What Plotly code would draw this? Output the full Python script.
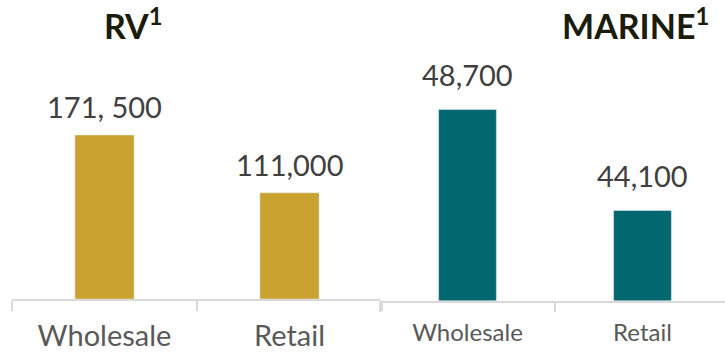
import plotly.graph_objects as go

categories = ["Wholesale", "Retail"]
rv_values = [171500, 111000]
rv_labels = ["171, 500", "111,000"]
marine_values = [48700, 44100]
marine_labels = ["48,700", "44,100"]
titles = ["RV<sup>1</sup>", "MARINE<sup>1</sup>"]

W, H = 725, 354
GOLD = "#C9A22F"
TEAL = "#03676F"
AXIS = "#D9D9D9"
FONT = "Lato"

fig = go.Figure()
fig.add_trace(go.Bar(x=categories, y=rv_values, marker_color=GOLD, width=0.32,
                     xaxis="x", yaxis="y", hoverinfo="skip"))
fig.add_trace(go.Bar(x=categories, y=marine_values, marker_color=TEAL, width=0.33,
                     xaxis="x2", yaxis="y2", hoverinfo="skip"))

annotations = []
for c, v, t in zip(categories, rv_values, rv_labels):
    annotations.append(dict(x=c, y=v, xref="x", yref="y", text=t, showarrow=False,
                            yanchor="bottom", yshift=9,
                            font=dict(family=FONT, size=29, color="#404040")))
for c, v, t in zip(categories, marine_values, marine_labels):
    annotations.append(dict(x=c, y=v, xref="x2", yref="y2", text=t, showarrow=False,
                            yanchor="bottom", yshift=16,
                            font=dict(family=FONT, size=29, color="#404040")))
annotations.append(dict(x=133 / W, y=1 - 24 / H, xref="paper", yref="paper", text="<b>" + titles[0] + "</b>",
                        showarrow=False, xanchor="center", yanchor="middle",
                        font=dict(family=FONT, size=34, color="#1C1C0C")))
annotations.append(dict(x=635 / W, y=1 - 24 / H, xref="paper", yref="paper", text="<b>" + titles[1] + "</b>",
                        showarrow=False, xanchor="center", yanchor="middle",
                        font=dict(family=FONT, size=34, color="#1C1C0C")))

left_bottom = 299
right_bottom = 300.5
fig.update_layout(
    width=W, height=H,
    margin=dict(l=0, r=0, t=0, b=0),
    paper_bgcolor="white", plot_bgcolor="white",
    showlegend=False,
    annotations=annotations,
    xaxis=dict(domain=[12 / W, 382 / W], range=[-0.5, 1.5], type="category",
               showline=True, linecolor=AXIS, linewidth=1.5,
               ticks="outside", tickson="boundaries", ticklen=10, tickcolor=AXIS, tickwidth=1.5,
               ticklabelstandoff=10,
               tickfont=dict(family=FONT, size=29, color="#595959"), showgrid=False, fixedrange=True),
    yaxis=dict(domain=[(H - left_bottom) / H, 1], range=[0, 171500 / 164 * left_bottom],
               visible=False, showgrid=False, fixedrange=True),
    xaxis2=dict(domain=[380 / W, 1], range=[-0.5, -0.5 + (W - 380) / 175], type="category",
                showline=True, linecolor=AXIS, linewidth=1.5,
                ticks="outside", tickson="boundaries", ticklen=10, tickcolor=AXIS, tickwidth=1.5,
                ticklabelstandoff=10,
                tickfont=dict(family=FONT, size=24, color="#595959"), showgrid=False, fixedrange=True,
                anchor="y2"),
    yaxis2=dict(domain=[(H - right_bottom) / H, 1],
                range=[40000, 40000 + right_bottom / 21.95 * 1000],
                visible=False, showgrid=False, fixedrange=True, anchor="x2"),
)

fig.write_html("out.html")
